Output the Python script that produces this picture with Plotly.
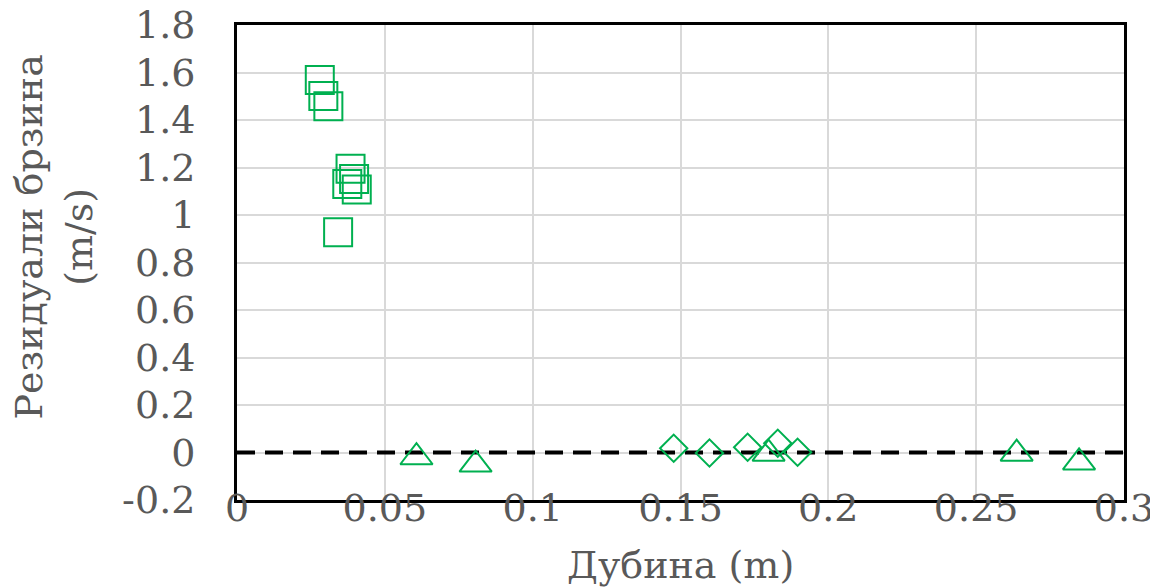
import plotly.graph_objects as go

# ---- data ----
sq_x = [0.028, 0.0292, 0.0309, 0.0384, 0.0396, 0.0373, 0.0405, 0.0342]
sq_y = [1.568, 1.501, 1.458, 1.195, 1.152, 1.131, 1.107, 0.927]

dia_x = [0.1477, 0.1598, 0.1727, 0.1829, 0.1896]
dia_y = [0.018, -0.002, 0.022, 0.039, 0.001]

tri_x = [0.0607, 0.0807, 0.1798, 0.2637, 0.2848]
tri_y = [-0.02, -0.051, -0.005, -0.005, -0.042]

zero_x = [0.0, 0.3]
zero_y = [0.0, 0.0]

x_tickvals = [0, 0.05, 0.1, 0.15, 0.2, 0.25, 0.3]
x_ticktext = ["0", "0.05", "0.1", "0.15", "0.2", "0.25", "0.3"]
y_tickvals = [-0.2, 0, 0.2, 0.4, 0.6, 0.8, 1.0, 1.2, 1.4, 1.6, 1.8]
y_ticktext = ["-0.2", "0", "0.2", "0.4", "0.6", "0.8", "1", "1.2", "1.4", "1.6", "1.8"]

x_title = "Дубина (m)"
y_title = "Резидуали брзина<br>(m/s)"

GREEN = "#00B050"
GREY = "#595959"
FONT = "DejaVu Serif, Liberation Serif, serif"

fig = go.Figure()
fig.add_trace(go.Scatter(x=zero_x, y=zero_y, mode="lines",
                         line=dict(color="black", width=4, dash="18px,10px"),
                         showlegend=False, hoverinfo="skip"))
fig.add_trace(go.Scatter(x=sq_x, y=sq_y, mode="markers",
                         marker=dict(symbol="square-open", size=28, color=GREEN,
                                     line=dict(color=GREEN, width=2)),
                         showlegend=False))
fig.add_trace(go.Scatter(x=dia_x, y=dia_y, mode="markers",
                         marker=dict(symbol="diamond-open", size=21, color=GREEN,
                                     line=dict(color=GREEN, width=2)),
                         showlegend=False))
fig.add_trace(go.Scatter(x=tri_x, y=tri_y, mode="markers",
                         marker=dict(symbol="triangle-up-open", size=28, color=GREEN,
                                     line=dict(color=GREEN, width=2)),
                         showlegend=False))

axis_common = dict(showline=True, linecolor="black", linewidth=3, mirror=True,
                   showgrid=True, gridcolor="#D9D9D9", gridwidth=1.5,
                   zeroline=False, ticks="", automargin=False,
                   ticklabeloverflow="allow",
                   tickfont=dict(family=FONT, size=38, color=GREY))

fig.update_xaxes(range=[0, 0.3], tickmode="array", tickvals=x_tickvals,
                 ticktext=x_ticktext, ticklabelstandoff=-28, **axis_common)
fig.update_yaxes(range=[-0.2, 1.8], tickmode="array", tickvals=y_tickvals,
                 ticktext=y_ticktext, ticklabelstandoff=31, **axis_common)

fig.add_annotation(text=x_title, xref="paper", yref="paper", x=0.5, y=0,
                   xanchor="center", yanchor="top", yshift=-41, showarrow=False,
                   font=dict(family=FONT, size=38, color=GREY))
fig.add_annotation(text=y_title, xref="paper", yref="paper", x=0, y=0.5526,
                   xanchor="center", yanchor="middle", xshift=-183, textangle=-90,
                   showarrow=False, font=dict(family=FONT, size=38, color=GREY))

# page body adds an 8px offset, so the figure is sized 8px smaller
fig.update_layout(width=1150, height=580,
                  margin=dict(l=229, r=34, t=17, b=88),
                  paper_bgcolor="white", plot_bgcolor="white",
                  font=dict(family=FONT, color=GREY))

fig.write_html("out.html")
